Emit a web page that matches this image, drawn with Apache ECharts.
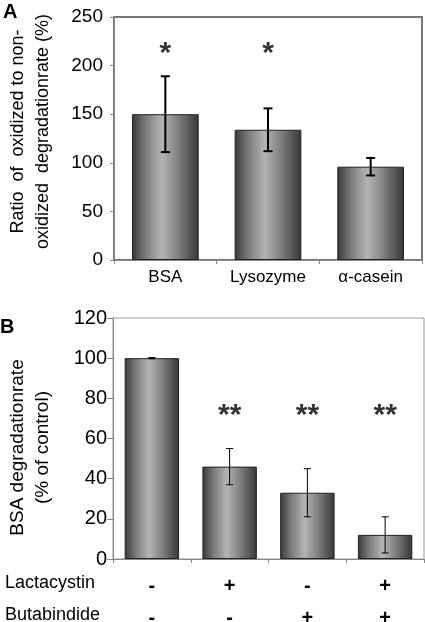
<!DOCTYPE html>
<html><head><meta charset="utf-8">
<script src="https://cdn.jsdelivr.net/npm/echarts@6/dist/echarts.min.js"></script>
<style>html,body{margin:0;padding:0;background:#fff}#c{width:425px;height:622px}</style>
</head><body><div id="c"></div>
<script>
// Panel A
const catsA = ['BSA', 'Lysozyme', '\u03b1-casein'];
const valsA = [150, 134, 96];
const errA = [39, 22, 9];
const starsA = ['*', '*', ''];
const starYA = [219, 219, null];
const ticksA = [0, 50, 100, 150, 200, 250];

// Panel B
const lactacystin = ['-', '+', '-', '+'];
const butabindide = ['-', '-', '+', '+'];
const valsB = [100, 46, 33, 12];
const errB = [0.3, 9, 12, 9];
const starsB = ['', '**', '**', '**'];
const starYB = [null, 75, 75, 75];
const ticksB = [0, 20, 40, 60, 80, 100, 120];

const FONT = 'Liberation Sans';
const barGrad = {
  type: 'linear', x: 0, y: 0, x2: 1, y2: 0,
  colorStops: [
    {offset: 0, color: '#383838'},
    {offset: 0.2, color: '#7a7a7a'},
    {offset: 0.45, color: '#b4b4b4'},
    {offset: 0.7, color: '#7e7e7e'},
    {offset: 1, color: '#363636'}
  ]
};

function errSeries(xi, yi, vals, errs, capW, lw) {
  return {
    type: 'custom', xAxisIndex: xi, yAxisIndex: yi, z: 5,
    data: vals.map((v, i) => [i, v - errs[i], v + errs[i]]),
    renderItem: function (params, api) {
      const lo = api.coord([api.value(0), api.value(1)]);
      const hi = api.coord([api.value(0), api.value(2)]);
      const st = {stroke: '#000', lineWidth: lw};
      return {type: 'group', children: [
        {type: 'line', shape: {x1: lo[0], y1: lo[1], x2: hi[0], y2: hi[1]}, style: st},
        {type: 'line', shape: {x1: lo[0] - capW / 2, y1: lo[1], x2: lo[0] + capW / 2, y2: lo[1]}, style: st},
        {type: 'line', shape: {x1: hi[0] - capW / 2, y1: hi[1], x2: hi[0] + capW / 2, y2: hi[1]}, style: st}
      ]};
    }
  };
}

function starSeries(xi, yi, ys, txt, fs) {
  return {
    type: 'scatter', xAxisIndex: xi, yAxisIndex: yi, symbolSize: 0, z: 6,
    data: ys.map((y, i) => y == null ? null : {value: [i, y], txt: txt[i]}).filter(d => d),
    label: {show: true, position: 'inside', offset: [0, 7], color: '#000', fontFamily: FONT,
      fontSize: fs, fontWeight: 'bold', formatter: p => p.data.txt},
    silent: true
  };
}

const chart = echarts.init(document.getElementById('c'), null, {renderer: 'canvas'});
chart.setOption({
  animation: false,
  backgroundColor: '#fff',
  grid: [
    {left: 114, top: 17, width: 308, height: 243, show: true, borderColor: '#777', borderWidth: 2,
      backgroundColor: 'transparent', containLabel: false, outerBoundsMode: 'none'},
    {left: 113, top: 318, width: 311, height: 241, show: true, borderColor: '#999', borderWidth: 1,
      backgroundColor: 'transparent', containLabel: false, outerBoundsMode: 'none'}
  ],
  xAxis: [
    {type: 'category', gridIndex: 0, data: catsA,
      axisLine: {lineStyle: {color: '#888', width: 1}},
      axisTick: {show: true, length: 4, lineStyle: {color: '#888'}},
      axisLabel: {color: '#000', fontFamily: FONT, fontSize: 17, margin: 9}},
    {type: 'category', gridIndex: 1, data: lactacystin.map((l, i) => l + '\n' + butabindide[i]),
      axisLine: {lineStyle: {color: '#888', width: 1}},
      axisTick: {show: true, length: 4, lineStyle: {color: '#888'}},
      axisLabel: {color: '#000', fontFamily: FONT, fontSize: 20, fontWeight: 'bold', lineHeight: 32, margin: 11}}
  ],
  yAxis: [
    {type: 'value', gridIndex: 0, min: 0, max: 250, interval: 50,
      axisLine: {show: true, lineStyle: {color: '#888', width: 1}},
      axisTick: {show: true, length: 4, lineStyle: {color: '#888'}},
      splitLine: {show: false},
      axisLabel: {color: '#000', fontFamily: FONT, fontSize: 19, margin: 11,
        formatter: v => ticksA.includes(v) ? String(v) : ''},
      name: 'Ratio  of  oxidized to non-\noxidized  degradationrate (%)',
      nameLocation: 'middle', nameRotate: 90, nameGap: 58,
      nameTextStyle: {color: '#000', fontFamily: FONT, fontSize: 18, lineHeight: 25, padding: [0, 0, 0, 14]}},
    {type: 'value', gridIndex: 1, min: 0, max: 120, interval: 20,
      axisLine: {show: true, lineStyle: {color: '#888', width: 1}},
      axisTick: {show: true, length: 6, lineStyle: {color: '#888'}},
      splitLine: {show: false},
      axisLabel: {color: '#000', fontFamily: FONT, fontSize: 20, margin: 6,
        formatter: v => ticksB.includes(v) ? String(v) : ''},
      name: 'BSA degradationrate\n(% of control)',
      nameLocation: 'middle', nameRotate: 90, nameGap: 58,
      nameTextStyle: {color: '#000', fontFamily: FONT, fontSize: 19, lineHeight: 25, padding: [0, 18, 0, 0]}}
  ],
  series: [
    {type: 'bar', xAxisIndex: 0, yAxisIndex: 0, data: valsA, barWidth: '65%',
      itemStyle: {color: barGrad, borderColor: '#222', borderWidth: 1}},
    errSeries(0, 0, valsA, errA, 9, 2),
    starSeries(0, 0, starYA, starsA, 30),
    {type: 'bar', xAxisIndex: 1, yAxisIndex: 1, data: valsB, barWidth: '70%',
      itemStyle: {color: barGrad, borderColor: '#222', borderWidth: 1}},
    errSeries(1, 1, valsB, errB, 7, 1),
    starSeries(1, 1, starYB, starsB, 30)
  ],
  graphic: [
    {type: 'text', left: 3, top: 2, style: {text: 'A', font: 'bold 20px "Liberation Sans"', fill: '#000'}},
    {type: 'text', left: 0, top: 317, style: {text: 'B', font: 'bold 20px "Liberation Sans"', fill: '#000'}},
    {type: 'text', left: 5, top: 574, style: {text: 'Lactacystin', font: '18px "Liberation Sans"', fill: '#000'}},
    {type: 'text', left: 5, top: 606, style: {text: 'Butabindide', font: '18px "Liberation Sans"', fill: '#000'}}
  ]
});
</script></body></html>
